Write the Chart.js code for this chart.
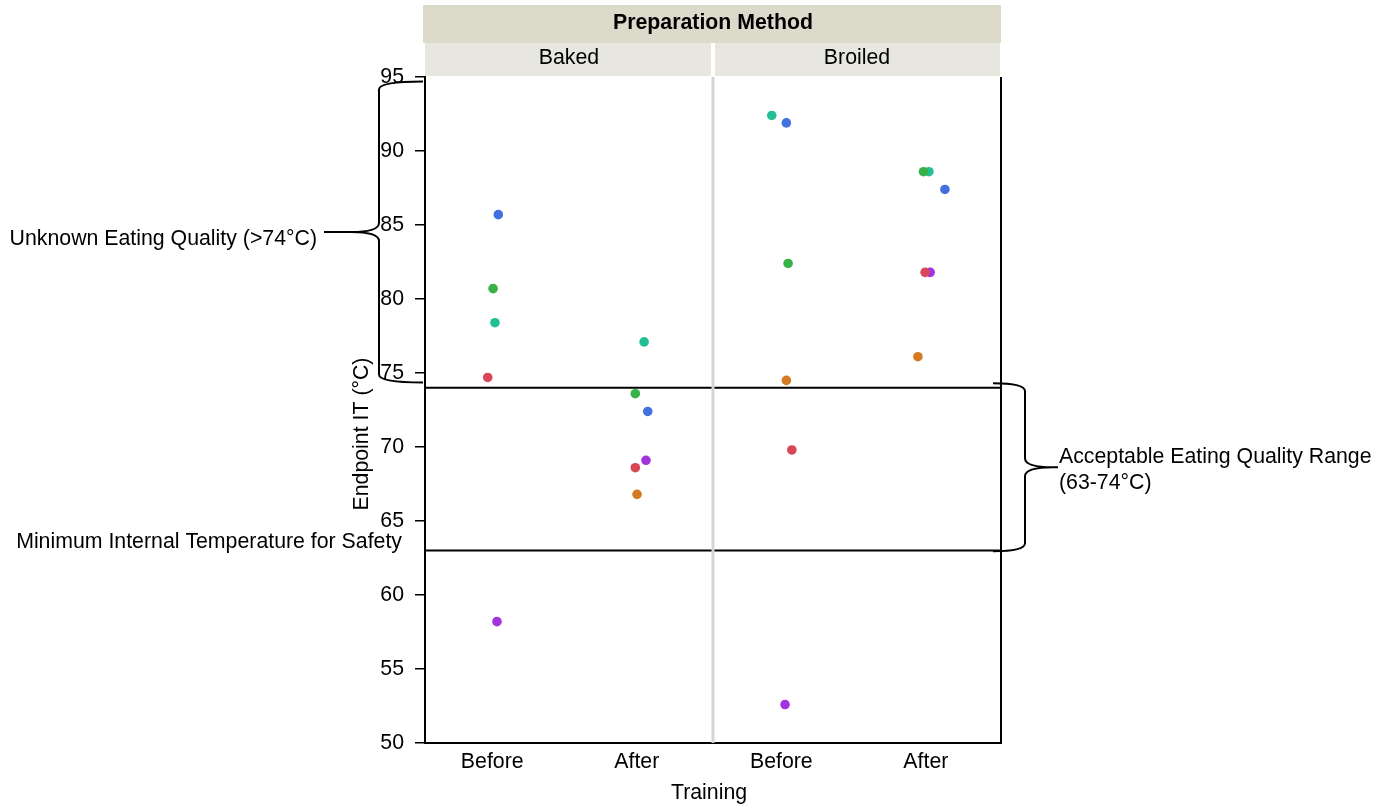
<!DOCTYPE html>
<html>
<head>
<meta charset="utf-8">
<script src="https://cdn.jsdelivr.net/npm/chart.js@4.4.1/dist/chart.umd.min.js"></script>
<style>
body { margin: 0; background: #fff; }
#wrap { position: relative; width: 1386px; height: 807px; }
</style>
</head>
<body>
<div id="wrap"><canvas id="chart"></canvas></div>
<script>
// panels and categories
var methods = ['Baked', 'Broiled'];
var trainingLevels = ['Before', 'After'];
var yTicks = [50, 55, 60, 65, 70, 75, 80, 85, 90, 95];

// endpoint temperature per cell: Baked/Before, Baked/After, Broiled/Before, Broiled/After
var blueValues   = [85.7, 72.4, 91.9, 87.4];
var greenValues  = [80.7, 73.6, 82.4, 88.6];
var tealValues   = [78.4, 77.1, 92.4, 88.6];
var redValues    = [74.7, 68.6, 69.8, 81.8];
var purpleValues = [58.2, 69.1, 52.6, 81.8];
var orangeValues = [null, 66.8, 74.5, 76.1];

// horizontal jitter of each point (fraction of a category step)
var blueJitter   = [0.042, 0.076, 0.035, 0.132];
var greenJitter  = [0.006, -0.010, 0.047, -0.016];
var tealJitter   = [0.019, 0.051, -0.066, 0.021];
var redJitter    = [-0.031, -0.010, 0.073, -0.005];
var purpleJitter = [0.033, 0.064, 0.026, 0.030];
var orangeJitter = [0, 0.002, 0.035, -0.055];

var qualityMax = 74;
var safetyMin = 63;

var FONT = '"Liberation Sans", Arial, sans-serif';
var FSIZE = 21.3;

function makePoints(values, jitter) {
    var pts = [];
    values.forEach(function(v, i) {
        if (v === null) return;
        pts.push({ x: i + jitter[i], y: v });
    });
    return pts;
}

var groups = [
    { values: blueValues,   jitter: blueJitter,   color: '#4270e0' },
    { values: greenValues,  jitter: greenJitter,  color: '#38b146' },
    { values: tealValues,   jitter: tealJitter,   color: '#22bf97' },
    { values: redValues,    jitter: redJitter,    color: '#d84657' },
    { values: purpleValues, jitter: purpleJitter, color: '#a233dd' },
    { values: orangeValues, jitter: orangeJitter, color: '#d57a22' }
];

function drawBrace(ctx, xEnd, xMid, xTip, yA, yB, yTip) {
    var dir = xTip < xMid ? -1 : 1;
    ctx.beginPath();
    ctx.moveTo(xEnd, yA);
    ctx.quadraticCurveTo(xMid, yA, xMid, yA + 8);
    ctx.lineTo(xMid, yTip - 9);
    ctx.quadraticCurveTo(xMid, yTip, xMid + dir * 28, yTip);
    ctx.lineTo(xTip, yTip);
    ctx.moveTo(xMid + dir * 28, yTip);
    ctx.quadraticCurveTo(xMid, yTip, xMid, yTip + 9);
    ctx.lineTo(xMid, yB - 8);
    ctx.quadraticCurveTo(xMid, yB, xEnd, yB);
    ctx.stroke();
}

var decorations = {
    id: 'decorations',
    beforeDatasetsDraw: function(chart) {
        var ctx = chart.ctx, a = chart.chartArea, y = chart.scales.y;
        ctx.save();
        ctx.strokeStyle = '#000';
        ctx.lineWidth = 2;
        [qualityMax, safetyMin].forEach(function(v) {
            var py = y.getPixelForValue(v);
            ctx.beginPath();
            ctx.moveTo(a.left, py);
            ctx.lineTo(a.right, py);
            ctx.stroke();
        });
        // panel divider
        var mid = (a.left + a.right) / 2;
        ctx.strokeStyle = '#d4d4d4';
        ctx.lineWidth = 3;
        ctx.beginPath();
        ctx.moveTo(mid, a.top);
        ctx.lineTo(mid, a.bottom);
        ctx.stroke();
        // right frame
        ctx.strokeStyle = '#000';
        ctx.lineWidth = 2;
        ctx.beginPath();
        ctx.moveTo(a.right, a.top);
        ctx.lineTo(a.right, a.bottom + 1);
        ctx.stroke();
        ctx.restore();
    },
    afterDraw: function(chart) {
        var ctx = chart.ctx, a = chart.chartArea, y = chart.scales.y;
        var mid = (a.left + a.right) / 2;
        ctx.save();

        // facet strips
        ctx.fillStyle = '#dcdacb';
        ctx.fillRect(a.left - 2, 5, a.right - a.left + 2, 38);
        ctx.fillStyle = '#e8e7df';
        ctx.fillRect(a.left, 43, mid - a.left - 2, 33);
        ctx.fillRect(mid + 2, 43, a.right - mid - 3, 33);
        ctx.fillStyle = '#000';
        ctx.textAlign = 'center';
        ctx.textBaseline = 'alphabetic';
        ctx.font = 'bold ' + FSIZE + 'px ' + FONT;
        ctx.fillText('Preparation Method', mid, 29);
        ctx.font = FSIZE + 'px ' + FONT;
        ctx.fillText(methods[0], (a.left + mid) / 2, 64);
        ctx.fillText(methods[1], (mid + a.right) / 2, 64);

        // axis titles
        ctx.fillText('Training', mid - 4, 799);
        ctx.save();
        ctx.translate(368, 434);
        ctx.rotate(-Math.PI / 2);
        ctx.fillText('Endpoint IT (\u00B0C)', 0, 0);
        ctx.restore();

        // annotations
        ctx.textAlign = 'right';
        ctx.fillText('Unknown Eating Quality (>74\u00B0C)', 317, 245);
        ctx.fillText('Minimum Internal Temperature for Safety', 402, 548);
        ctx.textAlign = 'left';
        ctx.fillText('Acceptable Eating Quality Range', 1059, 463);
        ctx.fillText('(63-74\u00B0C)', 1059, 489);

        // braces
        ctx.strokeStyle = '#000';
        ctx.lineWidth = 2;
        var lTop = y.getPixelForValue(94.7), lBot = y.getPixelForValue(74.35);
        drawBrace(ctx, a.left - 2, 379, 324, lTop, lBot, (lTop + lBot) / 2);
        var rTop = y.getPixelForValue(74.3), rBot = y.getPixelForValue(62.95);
        drawBrace(ctx, a.right - 8, 1025, 1058, rTop, rBot, (rTop + rBot) / 2);

        ctx.restore();
    }
};

var ctx = document.getElementById('chart').getContext('2d');
var chart = new Chart(ctx, {
    type: 'scatter',
    data: {
        datasets: groups.map(function(g) {
            return {
                data: makePoints(g.values, g.jitter),
                backgroundColor: g.color,
                borderWidth: 0,
                pointRadius: 4.8,
                pointHoverRadius: 4.8
            };
        })
    },
    options: {
        responsive: true,
        maintainAspectRatio: false,
        animation: false,
        layout: { padding: { left: 0, top: 77, right: 385, bottom: 0 } },
        plugins: {
            legend: { display: false },
            tooltip: { enabled: false }
        },
        scales: {
            x: {
                type: 'linear',
                min: -0.465,
                max: 3.52,
                afterFit: function(scale) { scale.height = 64; },
                afterBuildTicks: function(scale) {
                    scale.ticks = [0, 1, 2, 3].map(function(v) { return { value: v }; });
                },
                ticks: {
                    color: '#000',
                    font: { family: FONT, size: FSIZE },
                    padding: 6,
                    maxRotation: 0,
                    callback: function(value) { return trainingLevels[value % 2]; }
                },
                grid: { display: false, drawTicks: false },
                border: { display: true, color: '#000', width: 2 }
            },
            y: {
                min: 50,
                max: 95,
                afterFit: function(scale) { scale.width = 425; },
                afterBuildTicks: function(scale) {
                    scale.ticks = yTicks.map(function(v) { return { value: v }; });
                },
                ticks: {
                    color: '#000',
                    font: { family: FONT, size: FSIZE },
                    padding: 11
                },
                grid: {
                    drawOnChartArea: false,
                    drawTicks: true,
                    tickLength: 10,
                    color: '#000',
                    lineWidth: 1.5
                },
                border: { display: true, color: '#000', width: 2 }
            }
        }
    },
    plugins: [decorations]
});
</script>
</body>
</html>
